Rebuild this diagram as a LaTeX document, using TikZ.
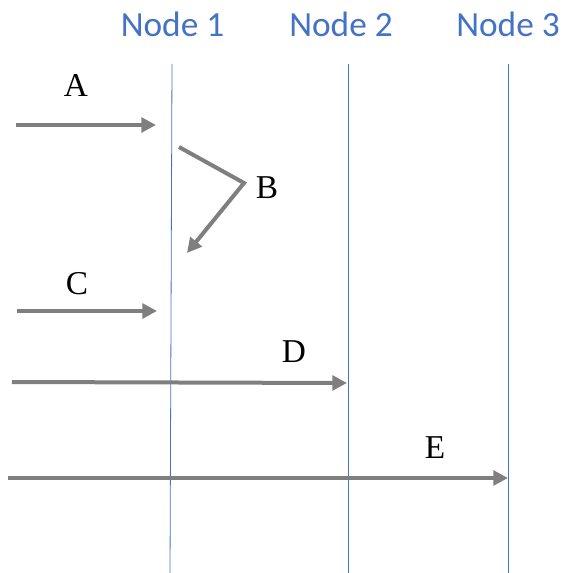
\documentclass[tikz,border=0pt]{standalone}
\usepackage{fontspec}
\setmainfont{Liberation Serif}
\newfontfamily\headfont{Carlito}
\usetikzlibrary{arrows.meta}
\definecolor{lineblue}{HTML}{4472C4}
\definecolor{arrowgray}{HTML}{7F7F7F}
\begin{document}
\begin{tikzpicture}[x=0.75pt,y=-0.75pt,
  lifeline/.style={draw=lineblue, line width=0.6pt},
  msg/.style={draw=arrowgray, line width=3pt, -{Triangle[length=11pt,width=11pt]}},
  head/.style={font=\headfont\fontsize{26.5}{30}\selectfont, text=lineblue, anchor=base, inner sep=0pt},
  lbl/.style={font=\fontsize{25}{30}\selectfont, inner sep=0pt}]
\useasboundingbox (0,0) rectangle (564,573);
% headers
\node[head] (n1) at (172.5,37) {Node 1};
\node[head] (n2) at (341,37) {Node 2};
\node[head] (n3) at (508,37) {Node 3};
% lifelines
\coordinate (l1t) at (172,64);
\coordinate (l1b) at (170,573);
\coordinate (l2t) at (348,64);
\coordinate (l2b) at (348,573);
\coordinate (l3t) at (508,64);
\coordinate (l3b) at (508,573);
\draw[lifeline] (l1t) -- (l1b);
\draw[lifeline] (l2t) -- (l2b);
\draw[lifeline] (l3t) -- (l3b);
% message A
\coordinate (a0) at (16,125);
\coordinate (a1) at (156,125);
\draw[msg] (a0) -- (a1);
\node[lbl] (la) at (76,86) {A};
% message B
\coordinate (b0) at (179,147);
\coordinate (b1) at (244,183);
\coordinate (b2) at (187,253);
\draw[msg] (b0) -- (b1) -- (b2);
\node[lbl] (lb) at (267,188) {B};
% message C
\coordinate (c0) at (17,311);
\coordinate (c1) at (157,311);
\draw[msg] (c0) -- (c1);
\node[lbl] (lc) at (77,284) {C};
% message D
\coordinate (d0) at (12,382);
\coordinate (d1) at (347,383);
\draw[msg] (d0) -- (d1);
\node[lbl] (ld) at (294,352) {D};
% message E
\coordinate (e0) at (8,478);
\coordinate (e1) at (508,478);
\draw[msg] (e0) -- (e1);
\node[lbl] (le) at (435,448) {E};
\end{tikzpicture}
\end{document}
